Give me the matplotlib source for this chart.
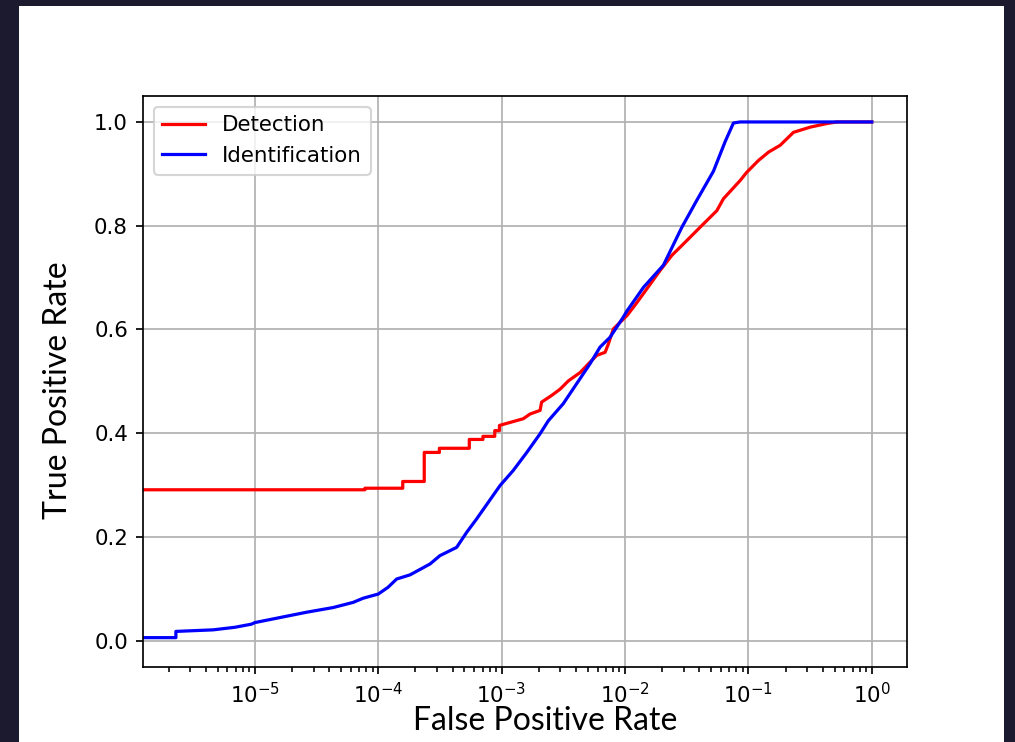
import numpy as np
import matplotlib.pyplot as plt
from matplotlib.patches import Rectangle
from matplotlib.ticker import LogLocator, NullFormatter

# ROC curves: false positive rate / true positive rate
det_fpr = [0.0, 7.8e-5, 7.8e-5, 1.58e-4, 1.58e-4, 2.36e-4, 2.36e-4, 3.13e-4, 3.13e-4,
           5.47e-4, 5.47e-4, 7.06e-4, 7.06e-4, 8.8e-4, 8.8e-4, 9.6e-4, 9.6e-4,
           1.5e-3, 1.7e-3, 2.05e-3, 2.11e-3, 2.55e-3, 2.98e-3, 3.48e-3, 4.33e-3,
           5.21e-3, 5.9e-3, 6.9e-3, 7.33e-3, 8.05e-3, 1.04e-2, 1.17e-2, 1.25e-2,
           1.93e-2, 2.4e-2, 2.98e-2, 4.06e-2, 5.55e-2, 6.28e-2, 8.57e-2, 9.7e-2,
           0.121, 0.146, 0.181, 0.232, 0.317, 0.434, 0.522, 1.0]
det_tpr = [0.291, 0.291, 0.294, 0.294, 0.307, 0.307, 0.363, 0.363, 0.371,
           0.371, 0.388, 0.388, 0.394, 0.394, 0.405, 0.405, 0.415,
           0.428, 0.437, 0.444, 0.460, 0.473, 0.485, 0.501, 0.517,
           0.537, 0.550, 0.556, 0.572, 0.601, 0.627, 0.643, 0.652,
           0.714, 0.743, 0.765, 0.797, 0.829, 0.852, 0.887, 0.903,
           0.926, 0.942, 0.955, 0.980, 0.990, 0.997, 1.0, 1.0]

idn_fpr = [0.0, 2.29e-6, 2.29e-6, 4.59e-6, 6.9e-6, 9.4e-6, 1.0e-5, 1.7e-5, 2.63e-5,
           4.31e-5, 6.27e-5, 7.55e-5, 1.0e-4, 1.2e-4, 1.41e-4, 1.81e-4, 2.63e-4,
           3.16e-4, 4.32e-4, 5.21e-4, 6.28e-4, 9.7e-4, 1.24e-3, 1.6e-3, 2.05e-3,
           2.39e-3, 3.16e-3, 5.21e-3, 6.28e-3, 7.57e-3, 9.7e-3, 1.04e-2, 1.41e-2,
           2.05e-2, 2.45e-2, 2.89e-2, 3.82e-2, 5.21e-2, 6.48e-2, 7.57e-2, 8.57e-2, 1.0]
idn_tpr = [0.006, 0.006, 0.018, 0.021, 0.026, 0.032, 0.035, 0.046, 0.055,
           0.064, 0.074, 0.082, 0.090, 0.103, 0.119, 0.127, 0.148,
           0.164, 0.180, 0.209, 0.235, 0.299, 0.328, 0.363, 0.399,
           0.424, 0.457, 0.534, 0.566, 0.585, 0.624, 0.636, 0.681,
           0.724, 0.762, 0.797, 0.849, 0.905, 0.962, 0.998, 1.0, 1.0]

s = 1.54  # the plot is pasted onto the slide enlarged
plt.rcParams.update({
    'font.size': 10 * s,
    'lines.linewidth': 1.5 * s,
    'axes.linewidth': 0.8 * s,
    'grid.linewidth': 0.8 * s,
    'patch.linewidth': 1.0 * s,
    'xtick.major.size': 3.5 * s, 'ytick.major.size': 3.5 * s,
    'xtick.major.width': 0.8 * s, 'ytick.major.width': 0.8 * s,
    'xtick.major.pad': 3.5 * s, 'ytick.major.pad': 3.5 * s,
})

fig = plt.figure(figsize=(10.15, 7.42), dpi=100, facecolor='#1c1a2e')
# white slide behind everything
fig.patches.append(Rectangle((19 / 1015, 0), 985 / 1015, 736 / 742,
                             transform=fig.transFigure, facecolor='white',
                             edgecolor='none', zorder=-10))

ax = fig.add_axes([0.1409, 0.1015, 0.7524, 0.7691])
ax.plot(det_fpr, det_tpr, color='red', label='Detection')
ax.plot(idn_fpr, idn_tpr, color='blue', label='Identification')
ax.set_xscale('log')
ax.set_xlim(1.24e-6, 1.92)
ax.set_ylim(-0.05, 1.05)
ax.xaxis.set_minor_locator(LogLocator(base=10.0, subs=np.arange(2, 10), numticks=100))
ax.xaxis.set_minor_formatter(NullFormatter())
ax.tick_params(axis='x', which='minor', bottom=True, length=2.5 * s, width=0.75 * s,
               color='black')
ax.grid(True)
ax.legend(loc='upper left')

fig.text(0.537, 0.028, 'False Positive Rate', family='Lato', fontsize=23,
         ha='center', va='center', color='black')
fig.text(0.057, 0.474, 'True Positive Rate', family='Lato', fontsize=23,
         ha='center', va='center', rotation=90, color='black')

fig.savefig('out.png', dpi=100, facecolor=fig.get_facecolor())
